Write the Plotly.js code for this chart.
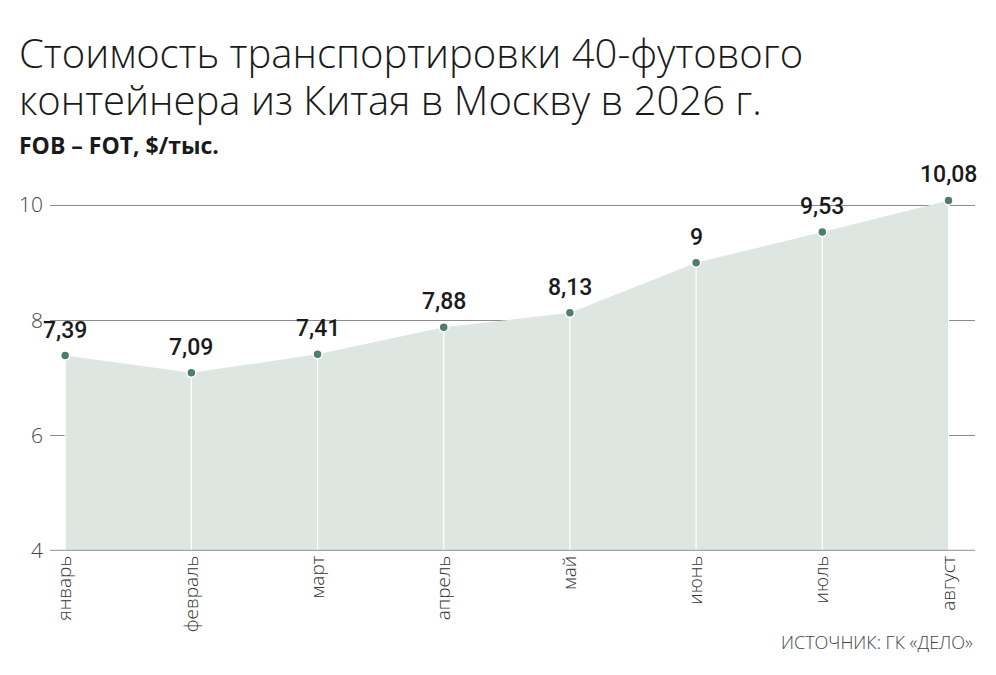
<!DOCTYPE html>
<html><head><meta charset="utf-8">
<script src="https://cdn.plot.ly/plotly-3.0.1.min.js"></script>
<style>html,body{margin:0;padding:0;background:#fff}#chart{width:996px;height:675px}</style>
</head><body><div id="chart"></div>
<script>
const months = ["январь","февраль","март","апрель","май","июнь","июль","август"];
const values = [7.39, 7.09, 7.41, 7.88, 8.13, 9.00, 9.53, 10.08];
const labels = ["7,39","7,09","7,41","7,88","8,13","9","9,53","10,08"];
const yTicks = [4, 6, 8, 10];
const titleLine1 = "Стоимость транспортировки 40-футового";
const titleLine2 = "контейнера из Китая в Москву в 2026 г.";
const subtitleText = "FOB – FOT, $/тыс.";
const sourceText = "ИСТОЧНИК: ГК «ДЕЛО»";
const yBase = 4;

const trace = {
  x: months, y: values, type: 'scatter', mode: 'lines+markers',
  fill: 'tozeroy', fillcolor: '#dde6e1',
  line: {color: '#dde6e1', width: 0},
  marker: {size: 9, color: '#4f7b71', line: {color: '#ffffff', width: 1.5}},
  error_y: {type: 'data', symmetric: false, array: values.map(() => 0),
            arrayminus: values.map(v => v - yBase), color: '#ffffff', thickness: 1.2, width: 0},
  cliponaxis: false, hoverinfo: 'none'
};

const valueAnnotations = months.map((m, i) => ({
  x: m, y: values[i], xref: 'x', yref: 'y', text: labels[i],
  showarrow: false, xanchor: 'center', yanchor: 'bottom', yshift: 10,
  font: {family: 'Roboto', size: 23, color: '#1a1a1a', weight: 500}
}));

const layout = {
  width: 996, height: 675,
  margin: {l: 50, r: 21, t: 170, b: 124},
  paper_bgcolor: '#ffffff', plot_bgcolor: '#ffffff',
  showlegend: false,
  xaxis: {
    type: 'category', range: [-0.12, 7.21],
    showgrid: false, zeroline: false, showline: false,
    tickangle: -90, ticks: '',
    tickfont: {family: 'Open Sans', size: 19, color: '#333333', weight: 300}
  },
  yaxis: {
    range: [4, 10.607], tickvals: yTicks, ticktext: yTicks.map(String),
    showgrid: true, gridcolor: '#8c8c8c', gridwidth: 1,
    zeroline: false, showline: false, ticks: '', ticklabelstandoff: 6,
    tickfont: {family: 'Open Sans', size: 21, color: '#444444', weight: 300}
  },
  shapes: [{type: 'line', xref: 'paper', yref: 'y', x0: 0, x1: 1, y0: yBase, y1: yBase,
            line: {color: '#a6a6a6', width: 2.5}}],
  annotations: valueAnnotations.concat([
    {text: titleLine1, xref: 'paper', yref: 'paper', x: -0.036, y: 1.386,
     xanchor: 'left', yanchor: 'top', align: 'left', showarrow: false,
     font: {family: 'Open Sans', size: 40, color: '#1a1a1a', weight: 300}},
    {text: titleLine2, xref: 'paper', yref: 'paper', x: -0.036, y: 1.2625,
     xanchor: 'left', yanchor: 'top', align: 'left', showarrow: false,
     font: {family: 'Open Sans', size: 40, color: '#1a1a1a', weight: 300}},
    {text: subtitleText, xref: 'paper', yref: 'paper', x: -0.036, y: 1.066,
     xanchor: 'left', yanchor: 'middle', align: 'left', showarrow: false,
     font: {family: 'Open Sans', size: 23, color: '#1a1a1a', weight: 700}},
    {text: sourceText, xref: 'paper', yref: 'paper', x: 1.0, y: -0.24,
     xanchor: 'right', yanchor: 'middle', align: 'right', showarrow: false,
     font: {family: 'Open Sans', size: 18, color: '#444444', weight: 300}}
  ])
};

Plotly.newPlot('chart', [trace], layout, {displayModeBar: false, staticPlot: true});
</script></body></html>
